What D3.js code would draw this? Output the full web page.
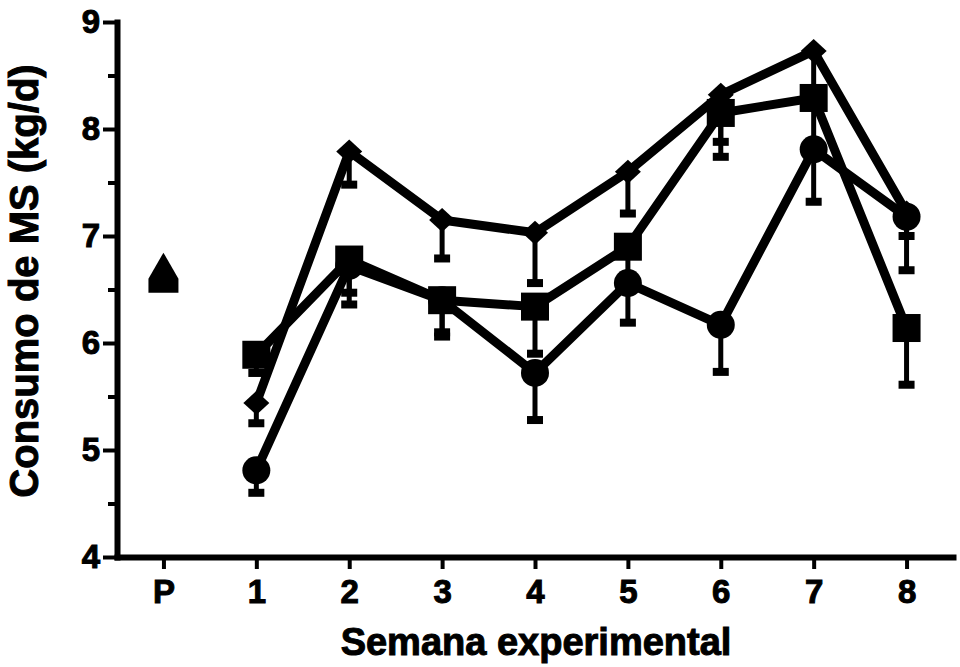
<!DOCTYPE html>
<html>
<head>
<meta charset="utf-8">
<script src="https://cdn.jsdelivr.net/npm/d3@7"></script>
<style>
  html, body { margin: 0; padding: 0; background: #fff; }
  svg { display: block; }
  text { font-family: "Liberation Sans", Arial, sans-serif; font-weight: bold; fill: #000; stroke: #000; stroke-width: 1px; }
</style>
</head>
<body>
<svg id="chart" width="960" height="667"></svg>
<script>
// ---- data ----
const categories = ["P", "1", "2", "3", "4", "5", "6", "7", "8"];
const weeks = ["1", "2", "3", "4", "5", "6", "7", "8"];
const yTicks = [4, 5, 6, 7, 8, 9];
const yMinorTicks = [4.5, 5.5, 6.5, 7.5, 8.5];

const diamondValues = [5.44, 7.79, 7.15, 7.03, 7.60, 8.32, 8.73, 7.22];
const diamondLower  = [5.25, 7.48, 6.79, 6.56, 7.21, 7.88, 8.30, 7.00];
const squareValues  = [5.89, 6.78, 6.40, 6.34, 6.90, 8.15, 8.29, 6.14];
const squareLower   = [5.72, 6.36, 6.06, 5.90, 6.60, 7.74, 7.85, 5.61];
const circleValues  = [4.81, 6.72, 6.40, 5.72, 6.56, 6.17, 7.81, 7.18];
const circleLower   = [4.60, 6.47, 6.10, 5.28, 6.19, 5.73, 7.32, 6.68];
const preValue = 6.62;

const yLabel = "Consumo de MS (kg/d)";
const xLabel = "Semana experimental";

// ---- scales ----
const svg = d3.select("#chart");
const x = d3.scalePoint().domain(categories).range([117, 953]).padding(0.5);
const y = d3.scaleLinear().domain([4, 9]).range([557, 22]);

const series = [
  { shape: "diamond", values: diamondValues, lower: diamondLower },
  { shape: "square",  values: squareValues,  lower: squareLower },
  { shape: "circle",  values: circleValues,  lower: circleLower }
];

// ---- error bars ----
const eb = svg.append("g");
series.forEach(s => {
  weeks.forEach((w, i) => {
    eb.append("line")
      .attr("x1", x(w)).attr("x2", x(w))
      .attr("y1", y(s.values[i])).attr("y2", y(s.lower[i]))
      .attr("stroke", "#000").attr("stroke-width", 5);
    eb.append("rect")
      .attr("x", x(w) - 8).attr("y", y(s.lower[i]) - 4)
      .attr("width", 16).attr("height", 8)
      .attr("fill", "#000");
  });
});

// ---- lines ----
const line = d3.line().x((d, i) => x(weeks[i])).y(d => y(d));
series.forEach(s => {
  svg.append("path")
    .attr("d", line(s.values))
    .attr("fill", "none")
    .attr("stroke", "#000")
    .attr("stroke-width", 9)
    .attr("stroke-linejoin", "round");
});

// ---- markers ----
function marker(shape, cx, cy) {
  if (shape === "circle") {
    svg.append("circle").attr("cx", cx).attr("cy", cy).attr("r", 14).attr("fill", "#000");
  } else if (shape === "square") {
    svg.append("rect").attr("x", cx - 14).attr("y", cy - 14).attr("width", 28).attr("height", 28).attr("fill", "#000");
  } else if (shape === "diamond") {
    const w = 13, h = 12;
    svg.append("path")
      .attr("d", `M${cx},${cy - h}L${cx + w},${cy}L${cx},${cy + h}L${cx - w},${cy}Z`)
      .attr("fill", "#000");
  } else if (shape === "triangle") {
    const w = 15, top = 24, bot = 16;
    svg.append("path")
      .attr("d", `M${cx},${cy - top}L${cx + w},${cy + 2}L${cx + w},${cy + bot}L${cx - w},${cy + bot}L${cx - w},${cy + 2}Z`)
      .attr("fill", "#000");
  }
}
series.forEach(s => {
  weeks.forEach((w, i) => marker(s.shape, x(w), y(s.values[i])));
});
marker("triangle", x("P"), y(preValue));

// ---- axes ----
const yAxis = svg.append("g").attr("transform", "translate(117,0)")
  .call(d3.axisLeft(y).tickValues(yTicks).tickSize(14).tickSizeOuter(0).tickPadding(3).tickFormat(d3.format("d")));
yAxis.select(".domain").attr("stroke-width", 6).attr("stroke-linecap", "square");
yAxis.selectAll(".tick line").attr("stroke-width", 4);
yAxis.selectAll(".tick text").attr("font-size", 33).attr("font-family", "Liberation Sans, Arial, sans-serif").attr("font-weight", "bold").attr("stroke", "#000").attr("stroke-width", 1);

const yMinor = svg.append("g").attr("transform", "translate(117,0)")
  .call(d3.axisLeft(y).tickValues(yMinorTicks).tickSize(9).tickFormat(""));
yMinor.select(".domain").remove();
yMinor.selectAll(".tick line").attr("stroke-width", 4);

const xAxis = svg.append("g").attr("transform", "translate(0,557)")
  .call(d3.axisBottom(x).tickSize(12).tickSizeOuter(0).tickPadding(11));
xAxis.select(".domain").attr("stroke-width", 6).attr("stroke-linecap", "square");
xAxis.selectAll(".tick line").attr("stroke-width", 4);
xAxis.selectAll(".tick text").attr("font-size", 33).attr("font-family", "Liberation Sans, Arial, sans-serif").attr("font-weight", "bold").attr("stroke", "#000").attr("stroke-width", 1);

// ---- axis titles ----
svg.append("text")
  .attr("transform", "translate(38,281) rotate(-90)")
  .attr("text-anchor", "middle")
  .attr("font-size", 40)
  .text(yLabel);

svg.append("text")
  .attr("x", 536).attr("y", 655)
  .attr("text-anchor", "middle")
  .attr("font-size", 38)
  .text(xLabel);
</script>
</body>
</html>
